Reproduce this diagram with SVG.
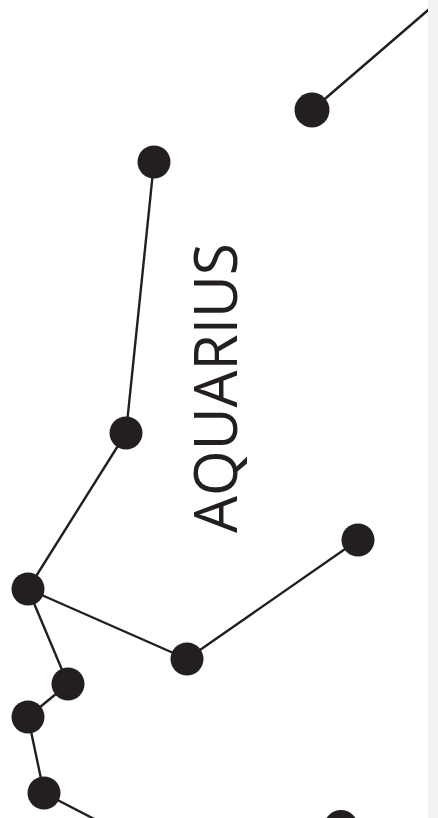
<svg xmlns="http://www.w3.org/2000/svg" width="438" height="818" viewBox="0 0 438 818">
<style>
.star{fill:#231f20}
.ln{stroke:#231f20;stroke-width:2.4;fill:none;stroke-linecap:round}
.lbl{font-family:"Open Sans","Liberation Sans",sans-serif;font-size:60px;fill:#231f20}
</style>
<rect x="0" y="0" width="438" height="818" fill="#ffffff"/>
<g id="connectors">
<line class="ln" x1="312" y1="110" x2="434" y2="5"/>
<line class="ln" x1="154" y1="162" x2="126" y2="433"/>
<line class="ln" x1="126" y1="433" x2="28" y2="589"/>
<line class="ln" x1="28" y1="589" x2="187" y2="659"/>
<line class="ln" x1="187" y1="659" x2="358" y2="540"/>
<line class="ln" x1="28" y1="589" x2="68" y2="684"/>
<line class="ln" x1="68" y1="684" x2="28" y2="717"/>
<line class="ln" x1="28" y1="717" x2="44" y2="793"/>
<line class="ln" x1="44" y1="793" x2="100" y2="822"/>
</g>
<rect x="428" y="0" width="10" height="818" fill="#f2f3f5"/>
<g id="s1"><circle class="star" cx="312" cy="110" r="17.5"/></g>
<g id="s2"><circle class="star" cx="154" cy="162" r="16.5"/></g>
<g id="s3"><circle class="star" cx="126" cy="433" r="16.5"/></g>
<g id="s4"><circle class="star" cx="28" cy="589" r="16.5"/></g>
<g id="s5"><circle class="star" cx="187" cy="659" r="16.5"/></g>
<g id="s6"><circle class="star" cx="358" cy="540" r="16.5"/></g>
<g id="s7"><circle class="star" cx="68" cy="684" r="16.5"/></g>
<g id="s8"><circle class="star" cx="28" cy="717" r="16.5"/></g>
<g id="s9"><circle class="star" cx="44" cy="793" r="16.5"/></g>
<g id="s10"><circle class="star" cx="341" cy="827" r="17"/></g>
<g id="label"><text class="lbl" transform="translate(237,388) rotate(-90)" x="0" y="0" text-anchor="middle" textLength="290" lengthAdjust="spacingAndGlyphs">AQUARIUS</text></g>
</svg>
